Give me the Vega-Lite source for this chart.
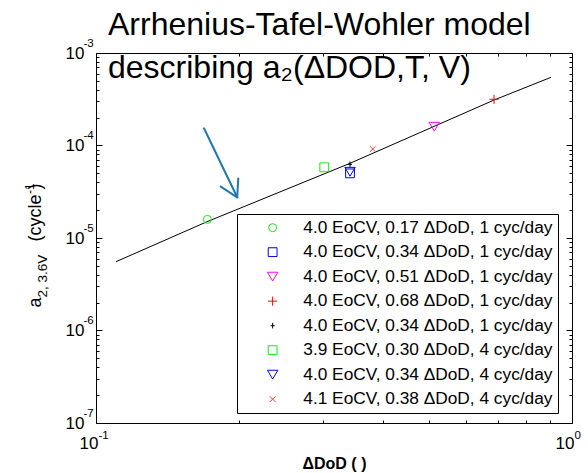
{
  "$schema": "https://vega.github.io/schema/vega-lite/v6.json",
  "width": 476,
  "height": 370,
  "autosize": {"type": "none"},
  "padding": {"left": 96, "top": 53, "right": 16, "bottom": 50},
  "background": "white",
  "config": {
    "view": {"stroke": null},
    "font": "Liberation Sans"
  },
  "title": {
    "text": ["Arrhenius-Tafel-Wohler model", "describing a₂(ΔDOD,T, V)"],
    "anchor": "start",
    "frame": "group",
    "dx": 12,
    "offset": -48,
    "fontSize": 32,
    "fontWeight": "normal",
    "font": "Liberation Sans",
    "lineHeight": 43,
    "color": "black"
  },
  "datasets": {
    "curve": [
      {"x": 0.1102, "y": 5.55e-6},
      {"x": 0.1711, "y": 1.50e-5},
      {"x": 0.3417, "y": 6.42e-5},
      {"x": 0.6858, "y": 3.10e-4},
      {"x": 0.9035, "y": 5.46e-4}
    ],
    "meas": [
      {"x": 0.1714, "y": 1.59e-5, "s": "1|4.0 EoCV, 0.17 ΔDoD, 1 cyc/day"},
      {"x": 0.3417, "y": 5.0e-5, "s": "2|4.0 EoCV, 0.34 ΔDoD, 1 cyc/day"},
      {"x": 0.5137, "y": 1.595e-4, "s": "3|4.0 EoCV, 0.51 ΔDoD, 1 cyc/day"},
      {"x": 0.6858, "y": 3.16e-4, "s": "4|4.0 EoCV, 0.68 ΔDoD, 1 cyc/day"},
      {"x": 0.3417, "y": 6.26e-5, "s": "5|4.0 EoCV, 0.34 ΔDoD, 1 cyc/day"},
      {"x": 0.3017, "y": 5.81e-5, "s": "6|3.9 EoCV, 0.30 ΔDoD, 4 cyc/day"},
      {"x": 0.3417, "y": 5.2e-5, "s": "7|4.0 EoCV, 0.34 ΔDoD, 4 cyc/day"},
      {"x": 0.3814, "y": 9.16e-5, "s": "8|4.1 EoCV, 0.38 ΔDoD, 4 cyc/day"}
    ],
    "arrow": [
      {"x": 0.1686, "y": 1.535e-4, "x2": 0.198, "y2": 2.754e-5},
      {"x": 0.1828, "y": 3.59e-5, "x2": 0.198, "y2": 2.754e-5},
      {"x": 0.199, "y": 4.41e-5, "x2": 0.198, "y2": 2.754e-5}
    ]
  },
  "resolve": {"axis": {"x": "independent", "y": "independent"}},
  "layer": [
    {
      "data": {"name": "curve"},
      "mark": {"type": "line", "color": "black", "strokeWidth": 1},
      "encoding": {
        "x": {
          "field": "x", "type": "quantitative",
          "scale": {"type": "log", "domain": [0.1, 1], "nice": false},
          "axis": {
            "orient": "bottom",
            "title": "ΔDoD ( )",
            "titleFont": "Liberation Sans", "titleFontSize": 16, "titleFontWeight": "bold", "titleColor": "black",
            "titlePadding": 1,
            "values": [0.1, 0.2, 0.3, 0.4, 0.5, 0.6, 0.7, 0.8, 0.9, 1],
            "labelExpr": "datum.value == 0.1 || datum.value == 1 ? '10' : ''",
            "labelFont": "Liberation Sans", "labelFontSize": 17, "labelColor": "black",
            "labelAlign": "right", "labelOffset": 2,
            "labelPadding": 18, "labelFlush": false, "labelOverlap": false,
            "tickSize": {"condition": {"test": "datum.value == 0.1 || datum.value == 1", "value": -6}, "value": -3},
            "tickColor": "black", "domainColor": "black", "grid": false
          }
        },
        "y": {
          "field": "y", "type": "quantitative",
          "scale": {"type": "log", "domain": [1e-7, 1e-3], "nice": false},
          "axis": {
            "orient": "left",
            "title": "a",
            "titleFont": "Liberation Sans", "titleFontSize": 18, "titleFontWeight": "normal", "titleColor": "black",
            "titleAngle": -90, "titleAlign": "left", "titleBaseline": "alphabetic",
            "titleX": -56, "titleY": 254,
            "values": [1e-7, 2e-7, 3e-7, 4e-7, 5e-7, 6e-7, 7e-7, 8e-7, 9e-7, 1e-6, 2e-6, 3e-6, 4e-6, 5e-6, 6e-6, 7e-6, 8e-6, 9e-6, 1e-5, 2e-5, 3e-5, 4e-5, 5e-5, 6e-5, 7e-5, 8e-5, 9e-5, 1e-4, 2e-4, 3e-4, 4e-4, 5e-4, 6e-4, 7e-4, 8e-4, 9e-4, 1e-3],
            "labelExpr": "datum.value == 1e-7 || datum.value == 1e-6 || datum.value == 1e-5 || datum.value == 1e-4 || datum.value == 1e-3 ? '10' : ''",
            "labelFont": "Liberation Sans", "labelFontSize": 17, "labelColor": "black",
            "labelPadding": 18, "labelFlush": false, "labelOverlap": false,
            "tickSize": {"condition": {"test": "datum.value == 1e-7 || datum.value == 1e-6 || datum.value == 1e-5 || datum.value == 1e-4 || datum.value == 1e-3", "value": -6}, "value": -3},
            "tickColor": "black", "domainColor": "black", "grid": false
          }
        }
      }
    },
    {
      "data": {"name": "curve"},
      "mark": {"type": "line", "opacity": 0},
      "encoding": {
        "x": {
          "field": "x", "type": "quantitative",
          "axis": {
            "orient": "bottom", "title": null, "ticks": false, "domain": false, "grid": false,
            "values": [0.1, 1],
            "labelExpr": "datum.value == 0.1 ? '-1' : '0'",
            "labelFont": "Liberation Sans", "labelFontSize": 11.5, "labelColor": "black",
            "labelAlign": "left", "labelOffset": 2,
            "labelPadding": 6, "labelFlush": false, "labelOverlap": false
          }
        },
        "y": {
          "field": "y", "type": "quantitative",
          "axis": {
            "orient": "left",
            "title": "2, 3.6V",
            "titleFont": "Liberation Sans", "titleFontSize": 13.5, "titleFontWeight": "normal", "titleColor": "black",
            "titleAngle": -90, "titleAlign": "left", "titleBaseline": "alphabetic",
            "titleX": -50, "titleY": 244,
            "ticks": false, "domain": false, "grid": false,
            "values": [1e-7, 1e-6, 1e-5, 1e-4, 1e-3],
            "labelExpr": "datum.value == 1e-7 ? '-7' : datum.value == 1e-6 ? '-6' : datum.value == 1e-5 ? '-5' : datum.value == 1e-4 ? '-4' : '-3'",
            "labelFont": "Liberation Sans", "labelFontSize": 11.5, "labelColor": "black",
            "labelAlign": "left", "labelOffset": -10,
            "labelPadding": 13, "labelFlush": false, "labelOverlap": false
          }
        }
      }
    },
    {
      "data": {"name": "curve"},
      "mark": {"type": "line", "opacity": 0},
      "encoding": {
        "x": {"field": "x", "type": "quantitative", "axis": null},
        "y": {
          "field": "y", "type": "quantitative",
          "axis": {
            "orient": "left",
            "title": "(cycle  )",
            "titleFont": "Liberation Sans", "titleFontSize": 18, "titleFontWeight": "normal", "titleColor": "black",
            "titleAngle": -90, "titleAlign": "left", "titleBaseline": "alphabetic",
            "titleX": -56, "titleY": 188,
            "ticks": false, "domain": false, "labels": false, "grid": false
          }
        }
      }
    },
    {
      "data": {"name": "curve"},
      "mark": {"type": "line", "opacity": 0},
      "encoding": {
        "x": {"field": "x", "type": "quantitative", "axis": null},
        "y": {
          "field": "y", "type": "quantitative",
          "axis": {
            "orient": "left",
            "title": "-1",
            "titleFont": "Liberation Sans", "titleFontSize": 12, "titleFontWeight": "normal", "titleColor": "black",
            "titleAngle": -90, "titleAlign": "left", "titleBaseline": "alphabetic",
            "titleX": -63, "titleY": 140.5,
            "ticks": false, "domain": false, "labels": false, "grid": false
          }
        }
      }
    },
    {
      "data": {"name": "meas"},
      "mark": {"type": "point", "filled": false, "strokeWidth": 1, "size": 64, "opacity": 1},
      "encoding": {
        "x": {
          "field": "x", "type": "quantitative",
          "axis": {
            "orient": "top", "title": null, "labels": false,
            "values": [0.1, 0.2, 0.3, 0.4, 0.5, 0.6, 0.7, 0.8, 0.9, 1],
            "tickSize": {"condition": {"test": "datum.value == 0.1 || datum.value == 1", "value": -6}, "value": -3},
            "tickColor": "black", "domainColor": "black", "grid": false
          }
        },
        "y": {
          "field": "y", "type": "quantitative",
          "axis": {
            "orient": "right", "title": null, "labels": false,
            "values": [1e-7, 2e-7, 3e-7, 4e-7, 5e-7, 6e-7, 7e-7, 8e-7, 9e-7, 1e-6, 2e-6, 3e-6, 4e-6, 5e-6, 6e-6, 7e-6, 8e-6, 9e-6, 1e-5, 2e-5, 3e-5, 4e-5, 5e-5, 6e-5, 7e-5, 8e-5, 9e-5, 1e-4, 2e-4, 3e-4, 4e-4, 5e-4, 6e-4, 7e-4, 8e-4, 9e-4, 1e-3],
            "tickSize": {"condition": {"test": "datum.value == 1e-7 || datum.value == 1e-6 || datum.value == 1e-5 || datum.value == 1e-4 || datum.value == 1e-3", "value": -6}, "value": -3},
            "tickColor": "black", "domainColor": "black", "grid": false
          }
        },
        "color": {
          "field": "s", "type": "nominal",
          "scale": {
            "domain": ["1|4.0 EoCV, 0.17 ΔDoD, 1 cyc/day", "2|4.0 EoCV, 0.34 ΔDoD, 1 cyc/day", "3|4.0 EoCV, 0.51 ΔDoD, 1 cyc/day", "4|4.0 EoCV, 0.68 ΔDoD, 1 cyc/day", "5|4.0 EoCV, 0.34 ΔDoD, 1 cyc/day", "6|3.9 EoCV, 0.30 ΔDoD, 4 cyc/day", "7|4.0 EoCV, 0.34 ΔDoD, 4 cyc/day", "8|4.1 EoCV, 0.38 ΔDoD, 4 cyc/day"],
            "range": ["#11ee11", "#0000ff", "#ff00ff", "#ff0000", "#000000", "#11ee11", "#0000ff", "#ff3333"]
          },
          "legend": {
            "orient": "none", "legendX": 141, "legendY": 161,
            "title": null,
            "labelExpr": "split(datum.label, '|')[1]",
            "labelFont": "Liberation Sans", "labelFontSize": 17.3, "labelColor": "black", "labelLimit": 0,
            "strokeColor": "black", "fillColor": "white",
            "padding": 5, "symbolOffset": 22, "labelOffset": 22, "rowPadding": 6.5,
            "symbolSize": 64, "symbolStrokeWidth": 1
          }
        },
        "shape": {
          "field": "s", "type": "nominal",
          "scale": {
            "domain": ["1|4.0 EoCV, 0.17 ΔDoD, 1 cyc/day", "2|4.0 EoCV, 0.34 ΔDoD, 1 cyc/day", "3|4.0 EoCV, 0.51 ΔDoD, 1 cyc/day", "4|4.0 EoCV, 0.68 ΔDoD, 1 cyc/day", "5|4.0 EoCV, 0.34 ΔDoD, 1 cyc/day", "6|3.9 EoCV, 0.30 ΔDoD, 4 cyc/day", "7|4.0 EoCV, 0.34 ΔDoD, 4 cyc/day", "8|4.1 EoCV, 0.38 ΔDoD, 4 cyc/day"],
            "range": ["circle", "M-1.1,-1.1H1.1V1.1H-1.1Z", "M-1.3,-1.1H1.3L0,1.1Z", "M-1.15,0H1.15M0,-1.15V1.15", "M-0.5,0H0.5M0,-0.7V0.7", "M-1.1,-1.1H1.1V1.1H-1.1Z", "M-1.3,-1.1H1.3L0,1.1Z", "M-0.7,-0.7L0.7,0.7M-0.7,0.7L0.7,-0.7"]
          },
          "legend": {
            "orient": "none", "legendX": 141, "legendY": 161,
            "title": null,
            "labelExpr": "split(datum.label, '|')[1]",
            "labelFont": "Liberation Sans", "labelFontSize": 17.3, "labelColor": "black", "labelLimit": 0,
            "strokeColor": "black", "fillColor": "white",
            "padding": 5, "symbolOffset": 22, "labelOffset": 22, "rowPadding": 6.5,
            "symbolSize": 64, "symbolStrokeWidth": 1
          }
        }
      }
    },
    {
      "data": {"name": "arrow"},
      "mark": {"type": "rule", "color": "#1f77b4", "strokeWidth": 2, "strokeCap": "round"},
      "encoding": {
        "x": {"field": "x", "type": "quantitative", "axis": null},
        "y": {"field": "y", "type": "quantitative", "axis": null},
        "x2": {"field": "x2"},
        "y2": {"field": "y2"}
      }
    }
  ]
}
